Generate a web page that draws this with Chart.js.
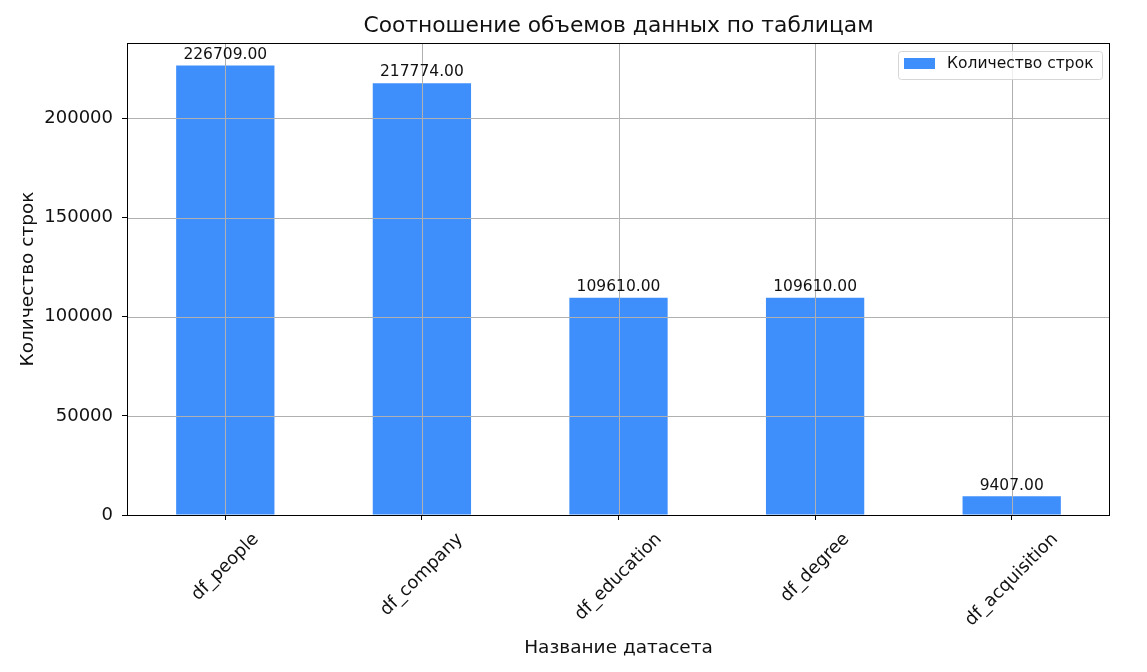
<!DOCTYPE html>
<html lang="ru">
<head>
    <meta charset="UTF-8">
    <title>Соотношение объемов данных по таблицам</title>
    <script src="https://cdn.jsdelivr.net/npm/chart.js"></script>
    <style>
        body { margin: 0; background: #fff; }
        #wrap { width: 1147px; height: 672px; }
    </style>
</head>
<body>
    <div id="wrap"><canvas id="rowsChart" width="1147" height="672"></canvas></div>

    <script>
        // Данные
        const datasets = ['df_people', 'df_company', 'df_education', 'df_degree', 'df_acquisition'];
        const rowCounts = [226709, 217774, 109610, 109610, 9407];
        const yTicks = [0, 50000, 100000, 150000, 200000];
        const yMax = 238045;

        const FONT = 'DejaVu Sans';
        const BAR_COLOR = '#3e8ffc';
        const GRID_COLOR = '#b0b0b0';

        // сетка поверх столбцов, рамка, подписи, легенда
        const overlay = {
            id: 'overlay',
            afterDatasetsDraw(chart) {
                const ctx = chart.ctx;
                const area = chart.chartArea;
                const x = chart.scales.x, y = chart.scales.y;
                ctx.save();
                ctx.strokeStyle = GRID_COLOR;
                ctx.lineWidth = 1;
                y.ticks.forEach((t, i) => {
                    const py = Math.round(y.getPixelForTick(i)) + 0.5;
                    ctx.beginPath(); ctx.moveTo(area.left, py); ctx.lineTo(area.right, py); ctx.stroke();
                });
                x.ticks.forEach((t, i) => {
                    const px = Math.round(x.getPixelForTick(i)) + 0.5;
                    ctx.beginPath(); ctx.moveTo(px, area.top); ctx.lineTo(px, area.bottom); ctx.stroke();
                });

                // подписи значений
                ctx.fillStyle = '#111';
                ctx.font = '15.5px "' + FONT + '"';
                ctx.textAlign = 'center';
                ctx.textBaseline = 'bottom';
                chart.getDatasetMeta(0).data.forEach((bar, i) => {
                    ctx.fillText(rowCounts[i].toFixed(2), bar.x, bar.y - 3);
                });

                // рамка
                ctx.strokeStyle = '#000';
                ctx.lineWidth = 1;
                ctx.strokeRect(Math.round(area.left) + 0.5, Math.round(area.top) + 0.5,
                    Math.round(area.right - area.left) - 1, Math.round(area.bottom - area.top));

                // легенда
                const lw = 204, lh = 28;
                const lx = area.right - 8 - lw, ly = area.top + 8;
                ctx.fillStyle = 'rgba(255,255,255,0.8)';
                ctx.strokeStyle = '#d6d6d6';
                ctx.beginPath();
                ctx.roundRect(lx + 0.5, ly + 0.5, lw, lh, 3);
                ctx.fill(); ctx.stroke();
                ctx.fillStyle = BAR_COLOR;
                ctx.fillRect(lx + 6, ly + 7, 31, 11);
                ctx.fillStyle = '#111';
                ctx.font = '15.5px "' + FONT + '"';
                ctx.textAlign = 'left';
                ctx.textBaseline = 'middle';
                ctx.fillText(chart.data.datasets[0].label, lx + 49, ly + 13);
                ctx.restore();
            },
            afterDraw(chart) {
                const ctx = chart.ctx;
                const area = chart.chartArea;
                const x = chart.scales.x;
                const cx = (area.left + area.right) / 2;
                ctx.save();
                ctx.fillStyle = '#111';

                ctx.font = '21.8px "' + FONT + '"';
                ctx.textAlign = 'center';
                ctx.textBaseline = 'middle';
                ctx.fillText('Соотношение объемов данных по таблицам', cx, 26);

                ctx.font = '18.5px "' + FONT + '"';
                ctx.fillText('Название датасета', cx, 648);

                ctx.save();
                ctx.translate(28, (area.top + area.bottom) / 2);
                ctx.rotate(-Math.PI / 2);
                ctx.fillText('Количество строк', 0, 0);
                ctx.restore();

                // подписи категорий под 45°
                ctx.font = '17.8px "' + FONT + '"';
                const h = 21;
                x.ticks.forEach((t, i) => {
                    const label = datasets[i];
                    const w = ctx.measureText(label).width;
                    const bh = (w + h) * Math.SQRT1_2;
                    const px = x.getPixelForTick(i);
                    const py = area.bottom + 14 + bh / 2;
                    ctx.save();
                    ctx.translate(px, py);
                    ctx.rotate(-Math.PI / 4);
                    ctx.fillText(label, 0, 0);
                    ctx.restore();
                });
                ctx.restore();
            }
        };

        new Chart(document.getElementById('rowsChart'), {
            type: 'bar',
            data: {
                labels: datasets,
                datasets: [{
                    label: 'Количество строк',
                    data: rowCounts,
                    backgroundColor: BAR_COLOR,
                    borderWidth: 0,
                    barPercentage: 0.5,
                    categoryPercentage: 1.0
                }]
            },
            options: {
                responsive: false,
                animation: false,
                devicePixelRatio: 1,
                layout: { padding: { left: 0, top: 43, right: 37, bottom: 0 } },
                plugins: {
                    legend: { display: false },
                    title: { display: false },
                    tooltip: { enabled: false }
                },
                scales: {
                    x: {
                        offset: true,
                        grid: {
                            offset: false,
                            drawOnChartArea: false,
                            drawTicks: true,
                            tickLength: 5,
                            tickColor: '#000'
                        },
                        border: { display: false },
                        ticks: { display: false },
                        afterFit(scale) { scale.height = 157; }
                    },
                    y: {
                        min: 0,
                        max: yMax,
                        afterBuildTicks(scale) {
                            scale.ticks = yTicks.map(v => ({ value: v }));
                        },
                        grid: {
                            drawOnChartArea: false,
                            drawTicks: true,
                            tickLength: 5,
                            tickColor: '#000'
                        },
                        border: { display: false },
                        ticks: {
                            padding: 9,
                            color: '#111',
                            font: { family: FONT, size: 18 },
                            callback: v => String(v)
                        },
                        afterFit(scale) { scale.width = 127; }
                    }
                }
            },
            plugins: [overlay]
        });
    </script>
</body>
</html>
